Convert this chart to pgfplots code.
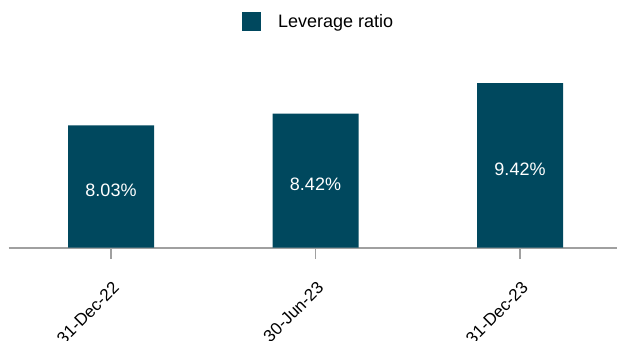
\documentclass[border=0pt]{standalone}
\usepackage{fontspec}
\setmainfont{Liberation Sans}
\usepackage{pgfplots}
\pgfplotsset{compat=1.18}
\definecolor{barc}{RGB}{0,72,94}
\definecolor{axc}{RGB}{160,160,160}
\begin{document}
\begin{tikzpicture}[x=1pt,y=1pt]
\useasboundingbox (0,0) rectangle (617,340);
\begin{axis}[
  at={(8.75pt,92.5pt)}, anchor=south west,
  scale only axis, width=609pt, height=187pt,
  xmin=-0.5, xmax=2.478, ymin=4, ymax=10.17,
  axis x line*=bottom, axis y line=none,
  axis line style={axc, line width=2pt},
  xtick={0,1,2}, xticklabels={31-Dec-22,30-Jun-23,31-Dec-23},
  tick align=outside, major tick length=11pt,
  tick style={axc, line width=1.5pt},
  x tick label style={rotate=45, anchor=north east, font=\fontsize{17}{20}\selectfont, text=black, inner sep=2pt, yshift=-14pt, xshift=-13pt},
  /pgf/number format/assume math mode=true,
  ybar, bar width=86pt,
  nodes near coords={\pgfmathprintnumber[fixed,fixed zerofill,precision=2]{\pgfplotspointmeta}\%},
  visualization depends on={rawy \as \rawy},
  every node near coord/.append style={anchor=center, text=white, font=\fontsize{18}{21}\selectfont, yshift={-(\rawy-4)*30.31/2-4}},
  legend style={at={(0.383,1.206)}, anchor=west, draw=none, fill=none, inner sep=0pt, column sep=17pt, font=\fontsize{18}{21}\selectfont, nodes={inner sep=0pt}},
  legend image code/.code={\fill[barc] (0pt,-9.5pt) rectangle (19pt,9.5pt);},
]
\addplot[fill=barc, draw=none] coordinates {(0,8.03) (1,8.42) (2,9.42)};
\addlegendentry{Leverage ratio}
\end{axis}
\end{tikzpicture}
\end{document}
